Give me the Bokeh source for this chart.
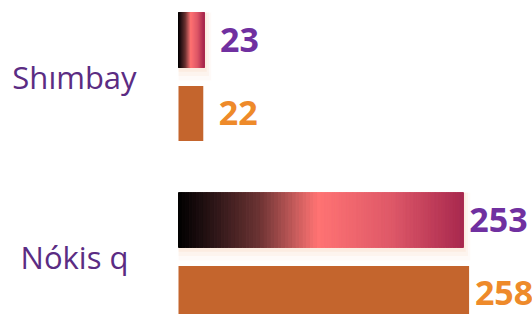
from bokeh.plotting import figure
from bokeh.models import Range1d
from bokeh.core.properties import value
from bokeh.embed import file_html
from bokeh.resources import INLINE

# ---- data ----
categories = ["Shımbay", "Nókis q"]
series_a = [23, 253]   # gradient bars
series_b = [22, 258]   # orange bars

# ---- style ----
grad_stops = [(0.0, (0, 0, 0)), (0.12, (42, 20, 22)), (0.28, (105, 50, 50)),
              (0.40, (190, 88, 88)), (0.49, (255, 115, 115)), (0.75, (222, 88, 104)),
              (1.0, (168, 40, 78))]
orange = "#C4652D"
label_a = "#7030A0"
label_b = "#EE8A2A"
cat_color = "#5B2C83"

def interp(f):
    for (f0, c0), (f1, c1) in zip(grad_stops[:-1], grad_stops[1:]):
        if f0 <= f <= f1:
            t = (f - f0) / (f1 - f0) if f1 > f0 else 0
            return "#%02x%02x%02x" % tuple(int(round(a + (b - a) * t)) for a, b in zip(c0, c1))
    return "#%02x%02x%02x" % grad_stops[-1][1]

n = len(categories)
pos = [n - 1 - i for i in range(n)]  # top to bottom
off = 0.204
bh = 0.305

p = figure(width=532, height=314, output_backend="svg", toolbar_location=None,
           x_range=Range1d(-158.04, 314.3), y_range=Range1d(-0.3208, 1.4236),
           x_axis_location=None, y_axis_location=None,
           min_border_left=0, min_border_right=0, min_border_top=0, min_border_bottom=0)
p.grid.visible = False
p.outline_line_color = None
p.background_fill_color = "white"

ya = [y + off for y in pos]
yb = [y - off for y in pos]

# glow behind gradient bars
for k, a in [(6, 0.06), (4, 0.08), (2, 0.12)]:
    p.hbar(y=[y - 0.012 * k / 2 for y in ya], left=0, right=[v + k * 1.0 for v in series_a],
           height=bh + 0.012 * k, fill_color="#F4B183", fill_alpha=a, line_color=None)

# gradient bars as segments
N = 80
ys, lefts, rights, cols = [], [], [], []
for y, v in zip(ya, series_a):
    for i in range(N):
        f0, f1 = i / N, (i + 1) / N
        ys.append(y)
        lefts.append(v * f0)
        rights.append(v * f1)
        cols.append(interp((f0 + f1) / 2))
p.hbar(y=ys, left=lefts, right=rights, height=bh, fill_color=cols, line_color=cols,
       line_width=1)

p.hbar(y=yb, left=0, right=series_b, height=bh, fill_color=orange, line_color=None)

fnt = value("Open Sans")
p.text(x=series_a, y=ya, text=[str(v) for v in series_a], x_offset=35, text_align="center",
       text_baseline="middle", text_font=fnt, text_font_style="bold", text_font_size="34px",
       text_color=label_a)
p.text(x=series_b, y=yb, text=[str(v) for v in series_b], x_offset=35, text_align="center",
       text_baseline="middle", text_font=fnt, text_font_style="bold", text_font_size="34px",
       text_color=label_b)
p.text(x=[0] * n, y=pos, text=categories, x_offset=-104, text_align="center",
       text_baseline="middle", text_font=fnt, text_font_size="31px", text_color=cat_color)

open("out.html", "w").write(file_html(p, INLINE))
